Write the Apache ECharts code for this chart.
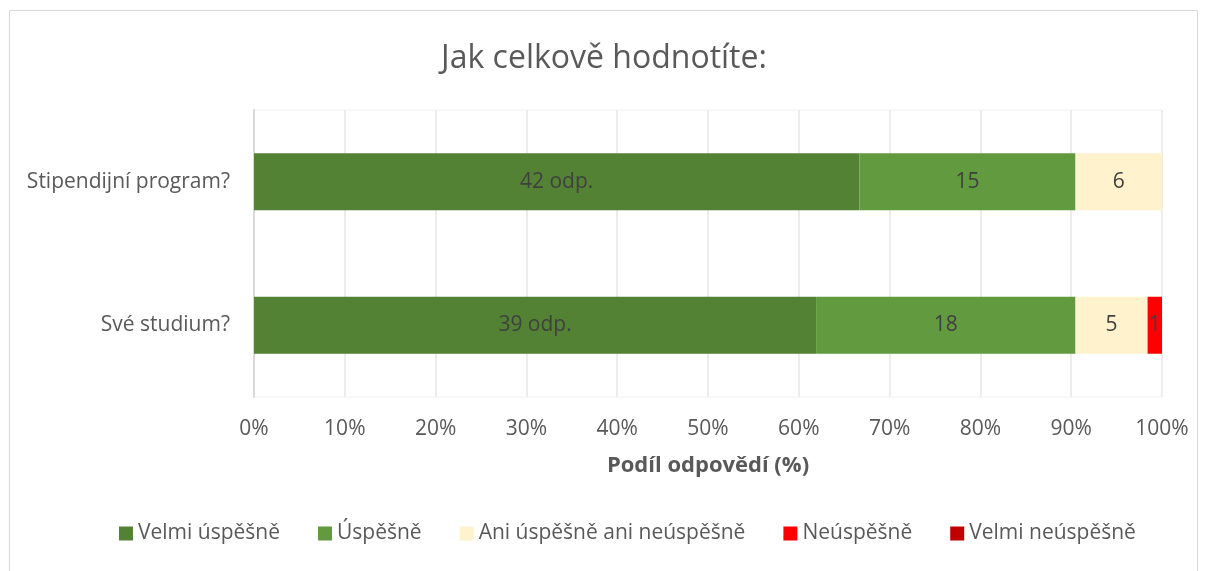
<!DOCTYPE html>
<html>
<head>
<meta charset="utf-8">
<script src="https://cdn.jsdelivr.net/npm/echarts@6/dist/echarts.min.js"></script>
<style>
  html, body { margin: 0; padding: 0; background: #fff; }
  #chart { width: 1208px; height: 571px; }
</style>
</head>
<body>
<div id="chart"></div>
<script>
// categories (top to bottom)
const categories = ['Stipendijní program?', 'Své studium?'];

// counts of answers per series
const seriesNames = ['Velmi úspěšně', 'Úspěšně', 'Ani úspěšně ani neúspěšně', 'Neúspěšně', 'Velmi neúspěšně'];
const velmiUspesne = [42, 39];
const uspesne = [15, 18];
const ani = [6, 5];
const neuspesne = [0, 1];
const velmiNeuspesne = [0, 0];

const colors = ['#548235', '#629b3f', '#fff2cc', '#ff0000', '#c00000'];
const xTicks = [0, 10, 20, 30, 40, 50, 60, 70, 80, 90, 100];

const allCounts = [velmiUspesne, uspesne, ani, neuspesne, velmiNeuspesne];
const totals = categories.map((c, i) => allCounts.reduce((s, arr) => s + arr[i], 0));

const chart = echarts.init(document.getElementById('chart'));

const series = allCounts.map((arr, si) => ({
  name: seriesNames[si],
  type: 'bar',
  stack: 'total',
  barWidth: 57,
  itemStyle: { color: colors[si] },
  label: {
    show: true,
    position: 'inside',
    color: '#404040',
    fontSize: 21,
    fontFamily: 'Open Sans',
    formatter: p => {
      const n = arr[p.dataIndex];
      if (!n) return '';
      return si === 0 ? n + ' odp.' : String(n);
    }
  },
  emphasis: { disabled: true },
  data: arr.map((v, i) => v / totals[i] * 100)
}));

chart.setOption({
  animation: false,
  textStyle: { fontFamily: 'Open Sans' },
  title: {
    text: 'Jak celkově hodnotíte:',
    left: 'center',
    top: 38,
    textStyle: { fontSize: 32, fontWeight: 'normal', color: '#595959', fontFamily: 'Open Sans' }
  },
  legend: {
    top: 518,
    left: 114,
    itemWidth: 14,
    itemHeight: 14,
    itemGap: 38,
    icon: 'rect',
    textStyle: { fontSize: 21, color: '#595959', fontFamily: 'Open Sans' },
    data: seriesNames
  },
  graphic: [{
    type: 'rect',
    shape: { x: 9.5, y: 10.5, width: 1188, height: 580 },
    style: { fill: 'none', stroke: '#d9d9d9', lineWidth: 1 },
    silent: true
  }],
  grid: {
    left: 254,
    right: 46,
    top: 110,
    bottom: 174,
    show: true,
    borderColor: '#f0f0f0',
    borderWidth: 1
  },
  xAxis: {
    type: 'value',
    min: 0,
    max: 100,
    interval: 10,
    name: 'Podíl odpovědí (%)',
    nameLocation: 'middle',
    nameGap: 58,
    nameTextStyle: { fontSize: 22, fontWeight: 'bold', color: '#595959', fontFamily: 'Open Sans' },
    axisLine: { show: false },
    axisTick: { show: false },
    axisLabel: {
      fontSize: 21,
      color: '#595959',
      margin: 22,
      formatter: v => xTicks.includes(v) ? v + '%' : ''
    },
    splitLine: { lineStyle: { color: '#ececec', width: 2 } }
  },
  yAxis: {
    type: 'category',
    inverse: true,
    data: categories,
    axisLine: { show: true, lineStyle: { color: '#d9d9d9', width: 2 } },
    axisTick: { show: false },
    axisLabel: { fontSize: 21, color: '#595959', margin: 24 },
    splitLine: { show: false }
  },
  series: series
});
</script>
</body>
</html>
